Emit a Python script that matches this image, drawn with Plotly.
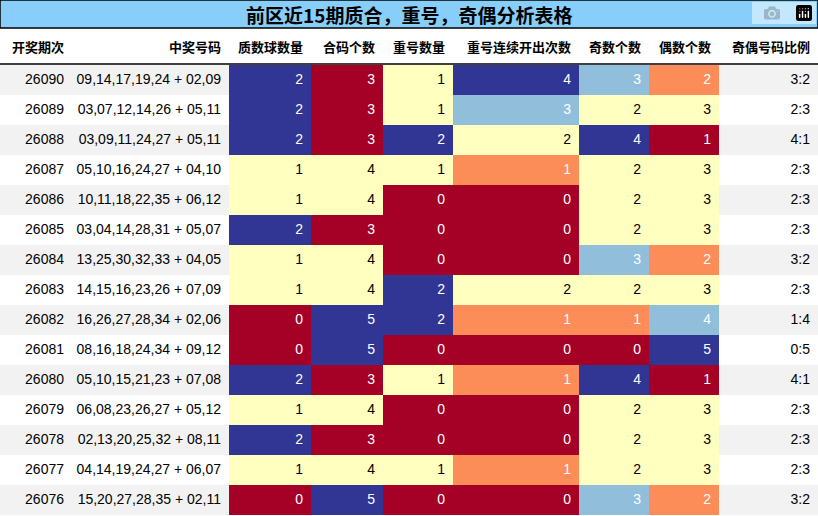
import plotly.graph_objects as go

periods = ["26090","26089","26088","26087","26086","26085","26084","26083","26082","26081","26080","26079","26078","26077","26076"]
numbers = ["09,14,17,19,24 + 02,09","03,07,12,14,26 + 05,11","03,09,11,24,27 + 05,11","05,10,16,24,27 + 04,10",
           "10,11,18,22,35 + 06,12","03,04,14,28,31 + 05,07","13,25,30,32,33 + 04,05","14,15,16,23,26 + 07,09",
           "16,26,27,28,34 + 02,06","08,16,18,24,34 + 09,12","05,10,15,21,23 + 07,08","06,08,23,26,27 + 05,12",
           "02,13,20,25,32 + 08,11","04,14,19,24,27 + 06,07","15,20,27,28,35 + 02,11"]
prime = [2,2,2,1,1,2,1,1,0,0,2,1,2,1,0]
composite = [3,3,3,4,4,3,4,4,5,5,3,4,3,4,5]
repeat = [1,1,2,1,0,0,0,2,2,0,1,0,0,1,0]
repeat_streak = [4,3,2,1,0,0,0,2,1,0,1,0,0,1,0]
odd = [3,2,4,2,2,2,3,2,1,0,4,2,2,2,3]
even = [2,3,1,3,3,3,2,3,4,5,1,3,3,3,2]
ratio = ["3:2","2:3","4:1","2:3","2:3","2:3","3:2","2:3","1:4","0:5","4:1","2:3","2:3","2:3","3:2"]
headers = ["开奖期次","中奖号码","质数球数量","合码个数","重号数量","重号连续开出次数","奇数个数","偶数个数","奇偶号码比例"]
title = "前区近15期质合，重号，奇偶分析表格"

palette = ["#a50026","#fc8d59","#ffffbf","#91bfdb","#313695"]
def colorize(vals):
    lo, hi = min(vals), max(vals)
    fills, fonts = [], []
    for v in vals:
        i = round((v - lo) / (hi - lo) * 4) if hi > lo else 2
        fills.append(palette[i]); fonts.append("black" if i == 2 else "white")
    return fills, fonts

stripe = ["#f2f2f2" if i % 2 == 0 else "white" for i in range(len(periods))]
num_cols = [prime, composite, repeat, repeat_streak, odd, even]
fills = [stripe, stripe]; fonts = [["black"]*15, ["black"]*15]
for c in num_cols:
    f, t = colorize(c); fills.append(f); fonts.append(t)
fills.append(stripe); fonts.append(["black"]*15)

numbers_nb = [s.replace(" ", "\u00a0") for s in numbers]

widths = [72,157,82,72,70,126,70,70,99]
fig = go.Figure(go.Table(
    columnwidth=widths,
    domain=dict(x=[0,1], y=[0, 1-29/516]),
    header=dict(values=[f"<b>{h}</b>" for h in headers], align="right", height=36,
                fill_color="white", line=dict(color="white", width=0),
                font=dict(family="Noto Sans CJK SC", size=13, color="black")),
    cells=dict(values=[periods, numbers_nb, prime, composite, repeat, repeat_streak, odd, even, ratio],
               align="right", height=30, fill_color=fills, line=dict(width=0, color="rgba(0,0,0,0)"),
               font=dict(family="Liberation Sans", size=14, color=fonts)),
))
fig.update_layout(width=818, height=516, margin=dict(l=0,r=0,t=0,b=0), paper_bgcolor="white",
    shapes=[dict(type="rect", xref="paper", yref="paper", x0=0, x1=1, y0=1-28/516, y1=1,
                 fillcolor="#87cefa", line=dict(color="black", width=1.5)),
            dict(type="line", xref="paper", yref="paper", x0=0, x1=1, y0=1-64/516, y1=1-64/516,
                 line=dict(color="black", width=1.5))],
    annotations=[dict(text=f"<b>{title}</b>", xref="paper", yref="paper", x=0.5, y=1-14/516,
                      xanchor="center", yanchor="middle",
                      showarrow=False, font=dict(family="Noto Sans CJK SC", size=19, color="black"))])
fig.write_html("out.html", post_script="document.body.style.margin='0';document.body.style.overflow='hidden';")
